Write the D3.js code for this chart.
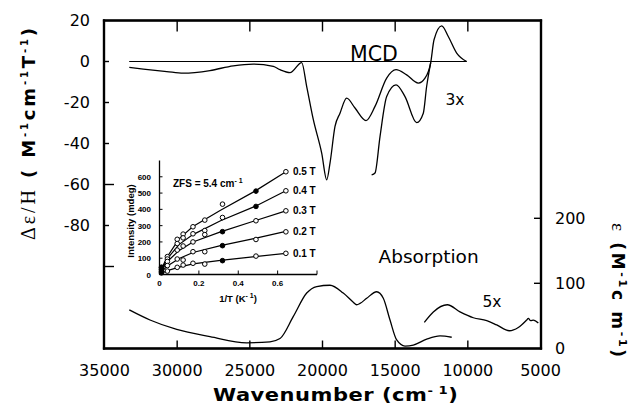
<!DOCTYPE html>
<html>
<head>
<meta charset="utf-8">
<script src="https://cdn.jsdelivr.net/npm/d3@7"></script>
<style>
  html, body { margin: 0; padding: 0; background: #fff; }
  svg { display: block; }
</style>
</head>
<body>
<script>
// ---------------- DATA ----------------
const xTickVals   = [35000, 30000, 25000, 20000, 15000, 10000, 5000];
const xTickLabels = ["35000", "30000", "25000", "20000", "15000", "10000", "5000"];
const xInnerTicks = [30000, 25000, 20000, 15000, 10000];

const yLeftTickVals   = [20, 0, -20, -40, -60, -80];
const yLeftTickLabels = ["20", "0", "-20", "-40", "-60", "-80"];
const yLeftShortTicks = [0, -20, -40, -80];
const yLeftLongTicks  = [-60, -100];

const yRightTickVals   = [0, 100, 200];
const yRightTickLabels = ["0", "100", "200"];

const mcdWn  = [33294, 32330, 30720, 29577, 27741, 26138, 24762, 23385, 22924, 22236, 21431, 21087, 20630, 20055, 19711, 19484, 19140, 18796, 18337, 17763, 17006, 16387, 15584, 14942, 14208, 13408, 12946, 12554, 12326, 11798, 11345, 10767, 10079];
const mcdVal = [-2.9, -3.7, -4.9, -5.7, -4.4, -2.1, -1.3, -2.4, -4.0, -5.4, -0.5, -12.2, -28.4, -44.7, -57.7, -49.6, -31.7, -25.2, -17.9, -22.7, -28.8, -21.9, -8.1, -4.0, -6.5, -10.5, -8.1, -0.5, 10.6, 17.4, 12.2, 4.1, 0];
const mcdZeroWn = [33300, 10079];
const mcd3Wn  = [16619, 16387, 16043, 15584, 14942, 14323, 13519, 13064, 12835, 12554];
const mcd3Val = [-55.3, -54.4, -36.6, -17.1, -11.4, -17.1, -29.8, -25.2, -12.2, -0.5];

const absWn  = [33294, 31869, 30032, 27741, 25216, 23613, 22925, 22007, 21087, 20399, 19484, 18570, 17882, 17650, 17419, 16958, 16270, 15816, 15355, 14894, 14323, 13752, 12830, 11914, 11109];
const absVal = [59, 43.5, 29, 18, 8.5, 10, 15, 49, 85, 95, 97, 85, 71, 67, 69, 77, 87, 77, 43.5, 12.8, 3.5, 5, 14, 19, 17];
const abs5Wn  = [12994, 12375, 11412, 10538, 9623, 8701, 8013, 7145, 6527, 5948, 5838, 5673, 5494, 5150];
const abs5Val = [40, 56, 67, 56, 47, 42.5, 36, 27, 32, 43.5, 46, 42.5, 43.5, 39];

const insetXTickVals   = [0, 0.2, 0.4, 0.6];
const insetXTickLabels = ["0", "0.2", "0.4", "0.6"];
const insetYTickVals   = [0, 100, 200, 300, 400, 500, 600];
const insetYTickLabels = ["0", "100", "200", "300", "400", "500", "600"];
const fieldLabels = ["0.5 T", "0.4 T", "0.3 T", "0.2 T", "0.1 T"];
const fitInvT = [0, 0.02, 0.04, 0.1, 0.17, 0.31, 0.485, 0.642];
const fit05 = [0, 60, 110, 220, 295, 395, 512, 631];
const fit04 = [0, 50, 98, 185, 245, 330, 418, 514];
const fit03 = [0, 42, 80, 148, 200, 262, 330, 391];
const fit02 = [0, 28, 52, 98, 135, 177, 222, 265];
const fit01 = [0, 12, 24, 45, 65, 87, 110, 130];
const markInvT = [0.01, 0.04, 0.09, 0.12, 0.17, 0.23, 0.32, 0.49, 0.642];
const mark05 = [45, 110, 216, 248, 293, 334, 432, 512, 631];
const mark04 = [40, 95, 190, 225, 250, 270, 350, 418, 514];
const mark03 = [30, 80, 150, 175, 200, 245, 263, 330, 391];
const mark02 = [20, 55, 95, 89, 140, 140, 177, 215, 262];
const mark01 = [10, 21, 44, 58, 69, 64, 85, 113, 130];
const markFilledIdx = [[0, 7], [0, 7], [0, 6], [0, 6], [0, 6]];

// ---------------- DRAWING ----------------
const W = 638, H = 419;
const svg = d3.select("body").append("svg").attr("width", W).attr("height", H);
svg.append("rect").attr("width", W).attr("height", H).attr("fill", "#fff");

const x  = d3.scaleLinear().domain([35000, 5000]).range([104.5, 540.5]);
const yL = d3.scaleLinear().domain([-140, 20]).range([348.5, 20.5]);
const yR = d3.scaleLinear().domain([0, 100]).range([348.3, 283.3]);
const fL = x(35000) - 0.5, fR = x(5000) + 0.5, fT = yL(20), fB = yL(-140);

const sansFont = "DejaVu Sans";
const insetFont = "Liberation Sans";

function bar(g, x0, y0, w, h) {
  g.append("rect").attr("x", Math.min(x0, x0 + w)).attr("y", Math.min(y0, y0 + h))
    .attr("width", Math.abs(w)).attr("height", Math.abs(h)).attr("fill", "#000");
}
function seg(g, x1, y1, x2, y2, sw) {
  g.append("line").attr("x1", x1).attr("y1", y1).attr("x2", x2).attr("y2", y2)
    .attr("stroke", "#000").attr("stroke-width", sw);
}
function txt(g, s, px, py, size, anchor, font, weight) {
  return g.append("text").attr("x", px).attr("y", py).text(s)
    .attr("text-anchor", anchor || "start").attr("fill", "#000")
    .style("font-family", font || sansFont).style("font-size", size + "px")
    .style("font-weight", weight || "normal");
}

// Curves
const lineL = d3.line().x(d => x(d[0])).y(d => yL(d[1])).curve(d3.curveMonotoneX);
const lineR = d3.line().x(d => x(d[0])).y(d => yR(d[1])).curve(d3.curveMonotoneX);
const zip = (a, b) => a.map((v, i) => [v, b[i]]).sort((p, q) => q[0] - p[0]);

svg.append("path").attr("d", lineL(mcdZeroWn.map(w => [w, 0])))
  .attr("fill", "none").attr("stroke", "#000").attr("stroke-width", 1.1);
[[mcdWn, mcdVal], [mcd3Wn, mcd3Val]].forEach(([a, b]) => {
  svg.append("path").attr("d", lineL(zip(a, b)))
    .attr("fill", "none").attr("stroke", "#000").attr("stroke-width", 1.3);
});
[[absWn, absVal], [abs5Wn, abs5Val]].forEach(([a, b]) => {
  svg.append("path").attr("d", lineR(zip(a, b)))
    .attr("fill", "none").attr("stroke", "#000").attr("stroke-width", 1.3);
});

// Annotations
txt(svg, "MCD", 350, 60.5, 20.5);
txt(svg, "3x", 445.5, 105, 15.5);
txt(svg, "5x", 482.5, 307, 15.5);
txt(svg, "Absorption", 378.5, 262.5, 18.5);

// X axis title
const xt = svg.append("text").attr("transform", "translate(213,401) scale(1.2,1)")
  .attr("textLength", 204).attr("lengthAdjust", "spacing")
  .style("font-family", sansFont).style("font-weight", "bold").style("font-size", "17.5px");
xt.append("tspan").text("Wavenumber  (cm");
xt.append("tspan").attr("dy", -7).style("font-size", "11px").text("-  1");
xt.append("tspan").attr("dy", 7).text(")");

// Left axis title
const lt = svg.append("text").attr("transform", "translate(35,134) rotate(-90)")
  .attr("text-anchor", "middle").attr("textLength", 212).attr("lengthAdjust", "spacing")
  .style("font-family", sansFont).style("font-weight", "bold").style("font-size", "18px");
lt.append("tspan").style("font-family", "Liberation Serif").style("font-weight", "normal").style("font-size", "20px").text("Δε/H");
lt.append("tspan").text(" ( M");
lt.append("tspan").attr("dy", -7).style("font-size", "10px").text("-1");
lt.append("tspan").attr("dy", 7).text("cm");
lt.append("tspan").attr("dy", -7).style("font-size", "10px").text("-1");
lt.append("tspan").attr("dy", 7).text("T");
lt.append("tspan").attr("dy", -7).style("font-size", "10px").text("-1");
lt.append("tspan").attr("dy", 7).text(")");

// Right axis title
const rt = svg.append("text").attr("transform", "translate(612,290) rotate(90)")
  .attr("text-anchor", "middle").attr("textLength", 134).attr("lengthAdjust", "spacing")
  .style("font-family", sansFont).style("font-weight", "bold").style("font-size", "17px");
rt.append("tspan").style("font-family", "Liberation Serif").style("font-weight", "normal").style("font-size", "19px").text("ε");
rt.append("tspan").text(" (M");
rt.append("tspan").attr("dy", -7).style("font-size", "11px").text("-1");
rt.append("tspan").attr("dy", 7).text("c m");
rt.append("tspan").attr("dy", -7).style("font-size", "11px").text("-1");
rt.append("tspan").attr("dy", 7).text(")");

// ---------------- INSET ----------------
const xi = d3.scaleLinear().domain([0, 0.8]).range([159.5, 317]);
const yi = d3.scaleLinear().domain([0, 700]).range([274.5, 160.5]);
const gi = svg.append("g");

seg(gi, xi(0), yi(0), xi(0), yi(700), 1.3);
seg(gi, xi(0), yi(0), xi(0.8), yi(0), 1.3);
insetYTickVals.forEach((v, i) => {
  seg(gi, xi(0), yi(v), xi(0) + 3, yi(v), 1);
  txt(gi, insetYTickLabels[i], 151, yi(v) + 3, 8, "end", insetFont, "bold");
});
insetXTickVals.concat([0.8]).forEach(v => seg(gi, xi(v), yi(0), xi(v), yi(0) - 4, 1));
insetXTickVals.forEach((v, i) => txt(gi, insetXTickLabels[i], xi(v), 286, 8, "middle", insetFont, "bold"));

const fits = [fit05, fit04, fit03, fit02, fit01];
const marks = [mark05, mark04, mark03, mark02, mark01];
const lineI = d3.line().x(d => xi(d[0])).y(d => yi(d[1]));
fits.forEach((f) => {
  gi.append("path").attr("d", lineI(fitInvT.map((t, i) => [t, f[i]])))
    .attr("fill", "none").attr("stroke", "#000").attr("stroke-width", 1.2);
});
marks.forEach((m, k) => {
  gi.selectAll(null).data(markInvT.map((t, i) => ({t, v: m[i], filled: markFilledIdx[k].includes(i)})))
    .join("circle").attr("cx", d => xi(d.t)).attr("cy", d => yi(d.v)).attr("r", 2.3)
    .attr("fill", d => d.filled ? "#000" : "#fff").attr("stroke", "#000").attr("stroke-width", 1);
});
fits.forEach((f, k) => {
  txt(gi, fieldLabels[k], xi(fitInvT[fitInvT.length - 1]) + 7, yi(f[f.length - 1]) + 3.5, 10, "start", insetFont, "bold");
});

const zfs = gi.append("text").attr("x", 173).attr("y", 187)
  .style("font-family", insetFont).style("font-weight", "bold").style("font-size", "10px");
zfs.append("tspan").text("ZFS = 5.4 cm");
zfs.append("tspan").attr("dy", -4).style("font-size", "7px").text("- 1");

const itx = gi.append("text").attr("x", 238).attr("y", 302).attr("text-anchor", "middle")
  .style("font-family", insetFont).style("font-weight", "bold").style("font-size", "9.5px");
itx.append("tspan").text("1/T  (K");
itx.append("tspan").attr("dy", -4).style("font-size", "7px").text("-  1");
itx.append("tspan").attr("dy", 4).text(")");

gi.append("text").attr("transform", "translate(134,221) rotate(-90)").attr("text-anchor", "middle")
  .style("font-family", insetFont).style("font-weight", "bold").style("font-size", "9.5px")
  .text("Intensity (mdeg)");

// ---------------- AXES & FRAME (drawn on top) ----------------
const gAxes = svg.append("g");
const fw = 2.2;
gAxes.append("path").attr("d", `M${fL},${fT}H${fR}V${fB}H${fL}Z`)
  .attr("fill", "none").attr("stroke", "#000").attr("stroke-width", fw);
bar(gAxes, fL - fw / 2, fT - fw / 2, fR - fL + fw, fw);
bar(gAxes, fL - fw / 2, fB - fw / 2, fR - fL + fw, fw);
bar(gAxes, fL - fw / 2, fT - fw / 2, fw, fB - fT + fw);
bar(gAxes, fR - fw / 2, fT - fw / 2, fw, fB - fT + fw);
xInnerTicks.forEach(v => { bar(gAxes, x(v) - 0.7, fB, 1.4, -8); bar(gAxes, x(v) - 0.7, fT, 1.4, 11); });
xTickVals.forEach((v, i) => txt(gAxes, xTickLabels[i], x(v), 376, 16, "middle"));
yLeftShortTicks.forEach(v => bar(gAxes, fL, yL(v) - 0.7, 5, 1.4));
yLeftLongTicks.forEach(v => bar(gAxes, fL, yL(v) - 0.7, 10, 1.4));
yLeftTickVals.forEach((v, i) => txt(gAxes, yLeftTickLabels[i], 90, yL(v) + 5.5, 16, "end"));
yRightTickVals.forEach((v, i) => {
  if (v > 0) bar(gAxes, fR, yR(v) - 0.7, -7, 1.4);
  txt(gAxes, yRightTickLabels[i], 555, yR(v) + 5.5, 16, "start");
});
</script>
</body>
</html>
